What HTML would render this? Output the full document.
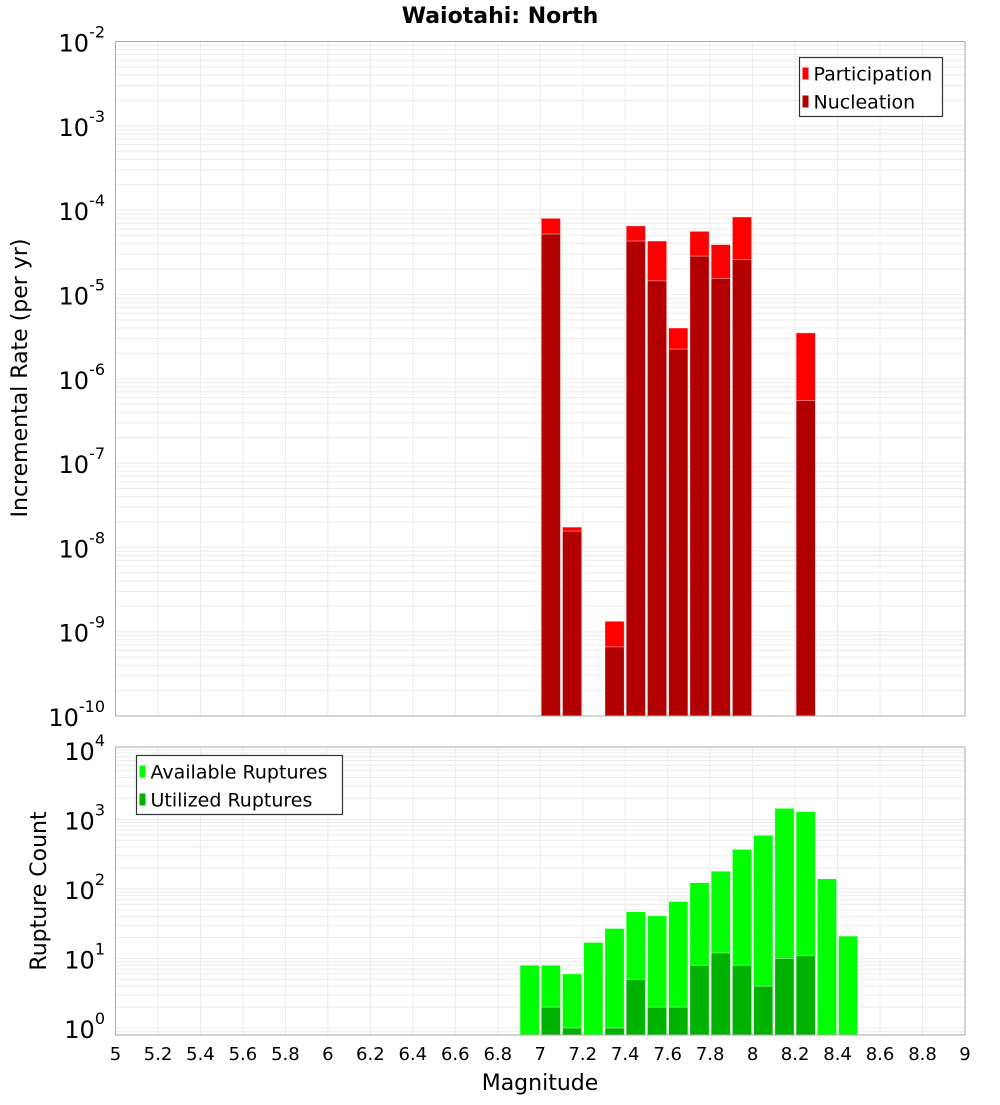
<!DOCTYPE html>
<html><head><meta charset="utf-8"><style>
body{margin:0;background:#fff;font-family:"Liberation Sans","DejaVu Sans",sans-serif}
svg text{font-family:"DejaVu Sans","Liberation Sans",sans-serif}
</style></head><body>
<svg id="chart" width="1000" height="1100" viewBox="0 0 1000 1100" xmlns="http://www.w3.org/2000/svg">
<text x="500" y="23" text-anchor="middle" font-size="22" font-weight="bold">Waiotahi: North</text>
<g id="top"></g>
<g id="bot"></g>
<text transform="translate(27,378) rotate(-90)" text-anchor="middle" font-size="22">Incremental Rate (per yr)</text>
<text transform="translate(46,891) rotate(-90)" text-anchor="middle" font-size="22">Rupture Count</text>
<text x="540" y="1090" text-anchor="middle" font-size="22">Magnitude</text>
</svg>
<script>
const topMags=[7.0,7.1,7.3,7.4,7.5,7.6,7.7,7.8,7.9,8.2];
const participation=[8.0e-5,1.74e-8,1.33e-9,6.5e-5,4.3e-5,4.0e-6,5.6e-5,3.9e-5,8.3e-5,3.5e-6];
const nucleation=[5.2e-5,1.56e-8,6.6e-10,4.3e-5,1.45e-5,2.25e-6,2.85e-5,1.55e-5,2.6e-5,5.5e-7];
const botMags=[6.9,7.0,7.1,7.2,7.3,7.4,7.5,7.6,7.7,7.8,7.9,8.0,8.1,8.2,8.3,8.4];
const available=[8,8,6,17,27,47,41,66,123,180,370,590,1440,1290,140,21];
const utilized=[0,2,1,0,1,5,2,2,8,12,8,4,10,11,0,0];
const xTicks=[5,5.2,5.4,5.6,5.8,6,6.2,6.4,6.6,6.8,7,7.2,7.4,7.6,7.8,8,8.2,8.4,8.6,8.8,9];
const topDecades=[-10,-9,-8,-7,-6,-5,-4,-3,-2];
const botDecades=[0,1,2,3,4];

const NS="http://www.w3.org/2000/svg";
const L=115.5,R=965;
const X=m=>L+(m-5)/4*(R-L);
function mk(p,t,a){const e=document.createElementNS(NS,t);for(const k in a)e.setAttribute(k,a[k]);p.appendChild(e);return e;}
function panel(g,top,bottom,ymin,ymax,decs,name){
  const Y=v=>bottom-(Math.log10(v)-ymin)/(ymax-ymin)*(bottom-top);
  const grid=mk(g,'g',{});
  
  
  for(let d=Math.floor(ymin);d<ymax;d++)for(let k=1;k<10;k++){const v=k*Math.pow(10,d);const lv=Math.log10(v);if(lv<ymin||lv>ymax)continue;const y=Y(v);mk(grid,'line',{x1:L,x2:R,y1:y,y2:y,stroke:'#ebebeb','stroke-width':1});}
  xTicks.forEach(t=>{const x=X(t);mk(grid,'line',{x1:x,x2:x,y1:top,y2:bottom,stroke:'#ebebeb','stroke-width':1});});
  decs.forEach(d=>{const y=Y(Math.pow(10,d));const t=mk(g,'text',{x:105,y:y+10,'text-anchor':'end','font-size':24});
    
    t.appendChild(document.createTextNode('10'));const s=mk(t,'tspan',{dy:-14,'font-size':16});s.textContent=String(d);});
  return Y;
}
const tg=document.getElementById('top'),bg=document.getElementById('bot');
const Yt=panel(tg,41.5,716,-10,-2,topDecades,'rate');
const Yb=panel(bg,747,1035,-0.1,4.04,botDecades,'count');
function bar(g,m,v,Y,bottom,fill,name){if(v<=0)return;const x1=X(m)+1,x2=X(m+0.1)-1;let y=Y(v);if(y<0)y=0;if(y>bottom)return;
  const r=mk(g,'rect',{x:x1,y:y,width:x2-x1,height:bottom-y,fill:fill,stroke:'#fff','stroke-width':0.6,'stroke-opacity':0.7});
  }
topMags.forEach((m,i)=>{bar(tg,m,participation[i],Yt,716,'#ff0000','participation-bar');bar(tg,m,nucleation[i],Yt,716,'#b20000','nucleation-bar');});
botMags.forEach((m,i)=>{bar(bg,m,available[i],Yb,1035,'#00ff00','available-bar');bar(bg,m,utilized[i],Yb,1035,'#00b200','utilized-bar');});
mk(tg,'rect',{x:L,y:41.5,width:R-L,height:716-41.5,fill:'none',stroke:'#aaa','stroke-width':1});
mk(bg,'rect',{x:L,y:747,width:R-L,height:1035-747,fill:'none',stroke:'#aaa','stroke-width':1});
xTicks.forEach(t=>{const e=mk(bg,'text',{x:X(t),y:1060,'text-anchor':'middle','font-size':18});e.textContent=String(t);
  });
function legend(g,x,y,w,items,name){const lg=mk(g,'g',{});
  mk(lg,'rect',{x:x,y:y,width:w,height:59,fill:'#fff',stroke:'#333','stroke-width':1.2});
  items.forEach((it,i)=>{const cy=y+16+i*28;mk(lg,'rect',{x:x+3,y:cy-6,width:6,height:12,fill:it[1]});
    const t=mk(lg,'text',{x:x+14,y:cy+7,'font-size':19});t.textContent=it[0];
    });}
legend(tg,799.5,57.5,143,[['Participation','#ff0000'],['Nucleation','#b20000']],'rate-legend');
legend(bg,136.5,755.5,206,[['Available Ruptures','#00ff00'],['Utilized Ruptures','#00b200']],'count-legend');
</script>
</body></html>
